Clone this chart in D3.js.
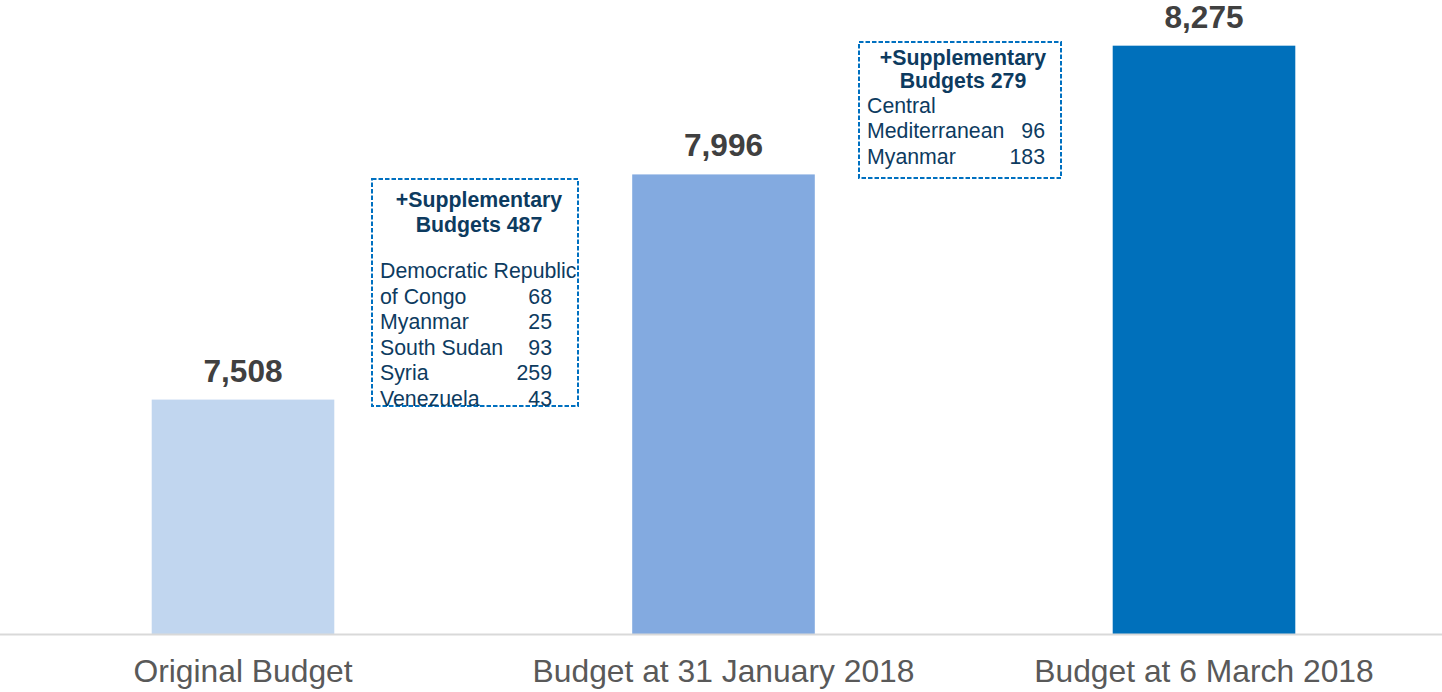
<!DOCTYPE html>
<html>
<head>
<meta charset="utf-8">
<script src="https://cdn.jsdelivr.net/npm/d3@7"></script>
<style>
  html, body { margin: 0; padding: 0; background: #ffffff; }
  svg { display: block; }
  svg text { font-family: "Liberation Sans", Arial, sans-serif; }
</style>
</head>
<body>
<svg id="chart" width="1442" height="692"></svg>
<script>
// ---- data ----
const categories = ["Original Budget", "Budget at 31 January 2018", "Budget at 6 March 2018"];
const values = [7508, 7996, 8275];
const barColors = ["#c1d6ef", "#83aae0", "#0070bb"];

const supp1Title = ["+Supplementary", "Budgets 487"];
const supp1Names = ["Democratic Republic", "of Congo", "Myanmar", "South Sudan", "Syria", "Venezuela"];
const supp1Values = ["", "68", "25", "93", "259", "43"];

const supp2Title = ["+Supplementary", "Budgets 279"];
const supp2Names = ["Central", "Mediterranean", "Myanmar"];
const supp2Values = ["", "96", "183"];

// ---- layout ----
const W = 1442, H = 692;
const svg = d3.select("#chart");

const x = d3.scaleBand()
  .domain(categories)
  .range([2.75, 1444.25])
  .paddingInner(0.62)
  .paddingOuter(0.31);

const y = d3.scaleLinear()
  .domain([7000, 8400])
  .range([634, -12]);

// bars
svg.selectAll("rect.bar")
  .data(categories)
  .enter().append("rect")
  .attr("class", "bar")
  .attr("x", d => x(d))
  .attr("width", x.bandwidth())
  .attr("y", (d, i) => y(values[i]))
  .attr("height", (d, i) => y(7000) - y(values[i]))
  .attr("fill", (d, i) => barColors[i]);

// baseline axis
const xAxis = d3.axisBottom(x).tickSize(0).tickPadding(0);
const ax = svg.append("g").attr("transform", `translate(0,${y(7000)})`).call(xAxis);
ax.attr("font-family", null);
ax.select(".domain").attr("d", `M0,0.5H${W}`).attr("stroke", "#d9d9d9").attr("stroke-width", 2);
ax.selectAll(".tick text")
  .attr("y", 48)
  .attr("dy", 0)
  .attr("font-size", 31.8)
  .attr("fill", "#595959");

// value labels
svg.selectAll("text.val")
  .data(categories)
  .enter().append("text")
  .attr("class", "val")
  .attr("x", d => x(d) + x.bandwidth() / 2)
  .attr("y", (d, i) => y(values[i]) - 18)
  .attr("text-anchor", "middle")
  .attr("font-size", 31.6)
  .attr("font-weight", "bold")
  .attr("fill", "#404040")
  .text((d, i) => d3.format(",")(values[i]));

// annotation boxes
const navy = "#0d3b5f";
function annot(box, titles, titleY, titleCx, names, nums, bodyY, lineH, leftX, numRight) {
  const g = svg.append("g");
  g.append("rect")
    .attr("x", box.x).attr("y", box.y)
    .attr("width", box.w).attr("height", box.h)
    .attr("fill", "none")
    .attr("stroke", "#0070c0")
    .attr("stroke-width", 2)
    .attr("stroke-dasharray", "4.5,2");
  titles.forEach((t, i) => {
    g.append("text")
      .attr("x", titleCx).attr("y", titleY[i])
      .attr("text-anchor", "middle")
      .attr("font-size", 21.3).attr("font-weight", "bold")
      .attr("fill", navy).text(t);
  });
  names.forEach((t, i) => {
    g.append("text")
      .attr("x", leftX).attr("y", bodyY + i * lineH)
      .attr("font-size", 21.3).attr("fill", navy).text(t);
    if (nums[i]) {
      g.append("text")
        .attr("x", numRight).attr("y", bodyY + i * lineH)
        .attr("text-anchor", "end")
        .attr("font-size", 21.3).attr("fill", navy).text(nums[i]);
    }
  });
}

annot({x: 372, y: 179, w: 206, h: 227}, supp1Title, [207, 232], 479,
      supp1Names, supp1Values, 278, 25.6, 380, 552);
annot({x: 859, y: 42, w: 202, h: 136}, supp2Title, [65, 88], 963,
      supp2Names, supp2Values, 113, 25.3, 867, 1045);
</script>
</body>
</html>
